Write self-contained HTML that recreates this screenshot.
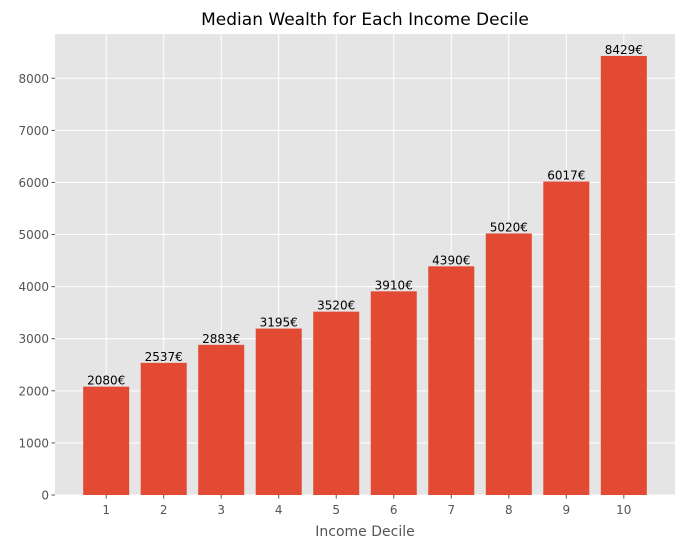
<!DOCTYPE html>
<html><head><meta charset="utf-8"><style>
body{margin:0;background:#fff;}
svg{display:block;font-family:"DejaVu Sans","Liberation Sans",sans-serif;}
</style></head><body>
<svg id="chart" width="685" height="549">
<rect x="55" y="34" width="620" height="461" fill="#e5e5e5"/>
<g id="grid"></g><g id="bars"></g><g id="labels"></g><g id="ticks"></g>
<text x="365" y="25" text-anchor="middle" font-size="17" fill="#000">Median Wealth for Each Income Decile</text>
<text x="365" y="536" text-anchor="middle" font-size="14" fill="#555">Income Decile</text>
</svg>
<script>
const categories=["1","2","3","4","5","6","7","8","9","10"];
const values=[2080,2537,2883,3195,3520,3910,4390,5020,6017,8429];
const yTicks=[0,1000,2000,3000,4000,5000,6000,7000,8000];
const NS="http://www.w3.org/2000/svg";
const L=55,R=675,T=34,B=495;
const xmin=0.11,xmax=10.89,ymax=8850;
const xs=v=>L+(v-xmin)/(xmax-xmin)*(R-L);
const ys=v=>B-v/ymax*(B-T);
function mk(tag,at,parent){const e=document.createElementNS(NS,tag);for(const k in at)e.setAttribute(k,at[k]);document.getElementById(parent).appendChild(e);return e;}
yTicks.forEach(t=>{
 const g=mk("line",{x1:L,x2:R,y1:ys(t),y2:ys(t),stroke:"#fff","stroke-width":1},"grid");
 
 
 const tk=mk("line",{x1:L-3.5,x2:L,y1:ys(t),y2:ys(t),stroke:"#555"},"ticks");
 
 
 const tx=mk("text",{x:L-6,y:ys(t)+4.5,"text-anchor":"end","font-size":"12","fill":"#555"},"ticks");
 tx.textContent=t;
 
 
});
categories.forEach((c,i)=>{
 const x=xs(i+1);
 const g=mk("line",{x1:x,x2:x,y1:T,y2:B,stroke:"#fff","stroke-width":1},"grid");
 
 
 const w=xs(1.4)-xs(0.6);
 const b=mk("rect",{x:x-w/2,y:ys(values[i]),width:w,height:B-ys(values[i]),fill:"#e24a33"},"bars");
 
 
 const lb=mk("text",{x:x,y:ys(values[i])-2,"text-anchor":"middle","font-size":"12","fill":"#000"},"labels");
 lb.textContent=values[i]+"€";
 
 
 const tk=mk("line",{x1:x,x2:x,y1:B,y2:B+3.5,stroke:"#555"},"ticks");
 
 
 const tx=mk("text",{x:x,y:B+19,"text-anchor":"middle","font-size":"12","fill":"#555"},"ticks");
 tx.textContent=c;
 
 
});
</script>
</body></html>
